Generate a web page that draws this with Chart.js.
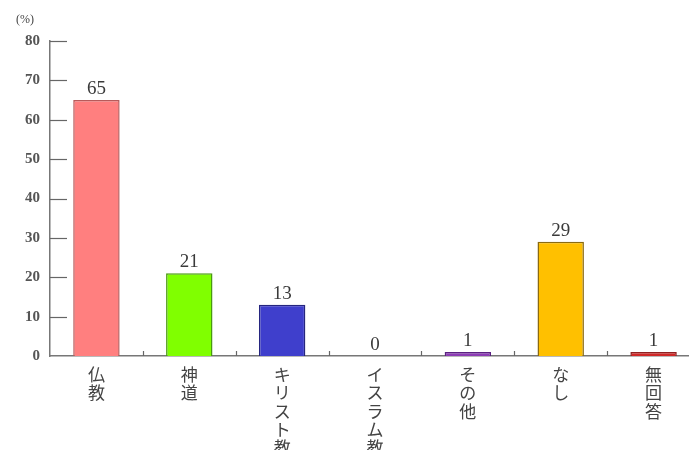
<!DOCTYPE html>
<html>
<head>
<meta charset="utf-8">
<script src="https://cdn.jsdelivr.net/npm/chart.js@4/dist/chart.umd.min.js"></script>
<style>
html,body{margin:0;padding:0;background:#fff;overflow:hidden;}
#wrap{width:689px;height:450px;overflow:hidden;position:relative;}
canvas{display:block;}
</style>
</head>
<body>
<div id="wrap"><canvas id="c" width="700" height="450"></canvas></div>
<script>
const categories = ["仏教", "神道", "キリスト教", "イスラム教", "その他", "なし", "無回答"];
const values = [65, 21, 13, 0, 1, 29, 1];
const yTicks = [0, 10, 20, 30, 40, 50, 60, 70, 80];
const unitLabel = "(%)";
const fillColors = ["#FF7F7F", "#80FF00", "#3F3FCC", "#9050B0", "#8C3CB4", "#FFC000", "#D02828"];
const borderColors = ["#B85A5A", "#4A9A10", "#25257F", "#603080", "#5A2080", "#8A6A10", "#902020"];

const serif = "'Liberation Serif', 'DejaVu Serif', serif";
const jp = "'Noto Sans CJK JP', sans-serif";

const extras = {
  id: 'extras',
  afterDraw(chart) {
    const ctx = chart.ctx;
    const x = chart.scales.x, y = chart.scales.y;
    const area = chart.chartArea;
    ctx.save();
    ctx.strokeStyle = '#666';
    ctx.lineWidth = 1.2;
    yTicks.forEach(v => {
      if (v === 0) return;
      const py = Math.round(y.getPixelForValue(v)) + 0.5;
      ctx.beginPath();
      ctx.moveTo(area.left, py);
      ctx.lineTo(area.left + 17, py);
      ctx.stroke();
    });
    for (let i = 1; i < categories.length; i++) {
      const px = Math.round((x.getPixelForValue(i - 1) + x.getPixelForValue(i)) / 2) + 0.5;
      ctx.beginPath();
      ctx.moveTo(px, area.bottom);
      ctx.lineTo(px, area.bottom - 5);
      ctx.stroke();
    }
    ctx.fillStyle = '#3a3a3a';
    ctx.font = "19px " + serif;
    ctx.textAlign = 'center';
    ctx.textBaseline = 'alphabetic';
    const meta = chart.getDatasetMeta(0);
    meta.data.forEach((bar, i) => {
      ctx.fillText(String(values[i]), bar.x, bar.y - 6);
    });
    ctx.font = "12px " + serif;
    ctx.fillStyle = '#444';
    ctx.textAlign = 'left';
    ctx.fillText(unitLabel, 16, 23);
    ctx.restore();
  }
};

new Chart(document.getElementById('c'), {
  type: 'bar',
  data: {
    labels: categories.map(s => Array.from(s)),
    datasets: [{
      data: values,
      backgroundColor: fillColors,
      borderColor: borderColors,
      borderWidth: 1.5,
      categoryPercentage: 1,
      barPercentage: 0.5
    }]
  },
  options: {
    responsive: false,
    animation: false,
    layout: { padding: { top: 41, left: 0, right: 0, bottom: 0 } },
    plugins: { legend: { display: false }, tooltip: { enabled: false } },
    scales: {
      x: {
        grid: { display: false, drawTicks: false },
        border: { color: '#777', width: 1.5 },
        ticks: {
          color: '#444',
          font: { family: jp, size: 17, lineHeight: 1.06 },
          padding: 10,
          maxRotation: 0,
          autoSkip: false
        },
        afterFit(s) { s.height = 94; }
      },
      y: {
        min: 0, max: 80,
        grid: { display: false, drawTicks: false },
        border: { color: '#777', width: 1.5 },
        ticks: {
          stepSize: 10,
          color: '#555',
          font: { family: serif, size: 15, weight: 'bold' },
          padding: 10
        },
        afterFit(s) { s.width = 50; }
      }
    }
  },
  plugins: [extras]
});
</script>
</body>
</html>
